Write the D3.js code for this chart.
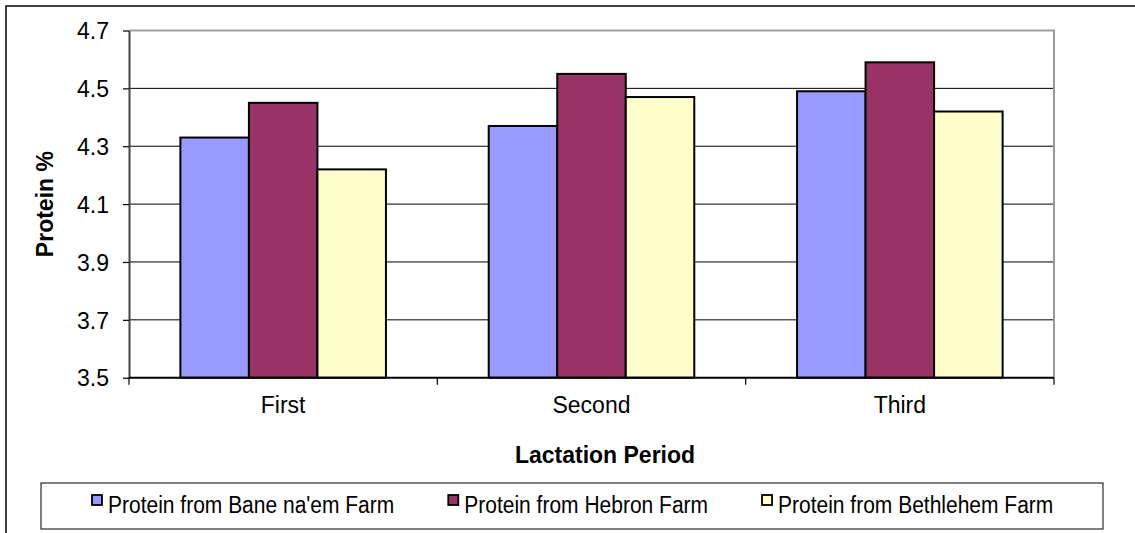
<!DOCTYPE html>
<html><head><meta charset="utf-8">
<script src="https://cdn.jsdelivr.net/npm/d3@7"></script>
<style>body{margin:0;background:#fff}svg{display:block;font-family:Arial,"Liberation Sans",sans-serif}</style>
</head><body>
<svg id="c" width="1135" height="533"></svg>
<script>
const categories = ["First", "Second", "Third"];
const seriesNames = ["Protein from Bane na'em Farm", "Protein from Hebron Farm", "Protein from Bethlehem Farm"];
const baneNaem = [4.33, 4.37, 4.49];
const hebron = [4.45, 4.55, 4.59];
const bethlehem = [4.22, 4.47, 4.42];
const yTicks = [3.5, 3.7, 3.9, 4.1, 4.3, 4.5, 4.7];
const colors = ["#9999FF", "#993366", "#FFFFCC"];
const yTitle = "Protein %";
const xTitle = "Lactation Period";

const series = [baneNaem, hebron, bethlehem];
const svg = d3.select("#c");
const L = 129, R = 1054, T = 30.5, B = 377.7;

// outer frame
svg.append("rect").attr("x", 6).attr("y", 6).attr("width", 1300).attr("height", 700)
  .attr("fill", "#fff").attr("stroke", "#000").attr("stroke-width", 1.5);

const x0 = d3.scaleBand().domain(categories).range([L, R]).paddingInner(0).paddingOuter(0);
const groupFrac = 3 / 4.5;
const x1 = d3.scaleBand().domain(d3.range(3)).range([0, x0.bandwidth() * groupFrac]);
const y = d3.scaleLinear().domain([3.5, 4.7]).range([B, T]);

// gridlines
svg.append("g").selectAll("line").data(yTicks.slice(1, -1)).join("line")
  .attr("x1", L).attr("x2", R).attr("y1", d => y(d)).attr("y2", d => y(d))
  .attr("stroke", "#000").attr("stroke-width", 1);

// plot border top / right
svg.append("line").attr("x1", L).attr("x2", R + 1).attr("y1", T).attr("y2", T).attr("stroke", "#a0a0a0").attr("stroke-width", 2);
svg.append("line").attr("x1", R).attr("x2", R).attr("y1", T).attr("y2", B).attr("stroke", "#9a9a9a").attr("stroke-width", 2);

// bars
const off = (x0.bandwidth() - x0.bandwidth() * groupFrac) / 2;
const g = svg.append("g");
categories.forEach((c, ci) => {
  series.forEach((s, si) => {
    g.append("rect")
      .attr("x", x0(c) + off + x1(si))
      .attr("y", y(s[ci]))
      .attr("width", x1.bandwidth())
      .attr("height", y(3.5) - y(s[ci]))
      .attr("fill", colors[si]).attr("stroke", "#000").attr("stroke-width", 2);
  });
});

// y axis
const yAxis = d3.axisLeft(y).tickValues(yTicks).tickFormat(d3.format(".1f")).tickSize(6).tickSizeOuter(0).tickPadding(14);
const ya = svg.append("g").attr("transform", `translate(${L},0)`).call(yAxis);
ya.select(".domain").attr("stroke", "#444").attr("stroke-width", 2);
ya.selectAll(".tick line").attr("stroke", "#000").attr("stroke-width", 1.2);
ya.selectAll(".tick text").attr("font-size", 23).attr("fill", "#000").attr("font-family", "Arial, 'Liberation Sans', sans-serif").attr("dy", "0.36em");

// x axis
const xTickPos = d3.range(categories.length + 1).map(i => L + i * x0.bandwidth());
const xa = svg.append("g");
xa.append("line").attr("x1", L).attr("x2", R).attr("y1", B).attr("y2", B).attr("stroke", "#000").attr("stroke-width", 2);
xa.selectAll("line.t").data(xTickPos).join("line").attr("class", "t")
  .attr("x1", d => d).attr("x2", d => d).attr("y1", B).attr("y2", B + 7).attr("stroke", "#000").attr("stroke-width", 1.2);
xa.selectAll("text").data(categories).join("text")
  .attr("x", d => x0(d) + x0.bandwidth() / 2).attr("y", 413)
  .attr("text-anchor", "middle").attr("font-size", 23).text(d => d);

// titles
svg.append("text").attr("x", 605).attr("y", 463).attr("text-anchor", "middle")
  .attr("font-size", 23).attr("font-weight", "bold").text(xTitle);
svg.append("text").attr("transform", `translate(53,${(T + B) / 2}) rotate(-90)`).attr("text-anchor", "middle")
  .attr("font-size", 23).attr("font-weight", "bold").text(yTitle);

// legend
const lg = svg.append("g");
lg.append("rect").attr("x", 41).attr("y", 483).attr("width", 1062).attr("height", 46)
  .attr("fill", "#fff").attr("stroke", "#000").attr("stroke-width", 1);
const items = seriesNames.map((n, i) => {
  const it = lg.append("g");
  it.append("rect").attr("x", 0).attr("y", -6).attr("width", 10).attr("height", 10)
    .attr("fill", colors[i]).attr("stroke", "#000").attr("stroke-width", 1.8);
  const t = it.append("text").attr("x", 16).attr("y", 3).attr("dy", "0.36em").attr("font-size", 21)
    .attr("transform", "scale(1,1.12)").text(n);
  return {g: it, w: 16 + t.node().getComputedTextLength()};
});
const gap = 54;
let cx = 92;
items.forEach(d => { d.g.attr("transform", `translate(${cx},501)`); cx += d.w + gap; });
</script>
</body></html>
